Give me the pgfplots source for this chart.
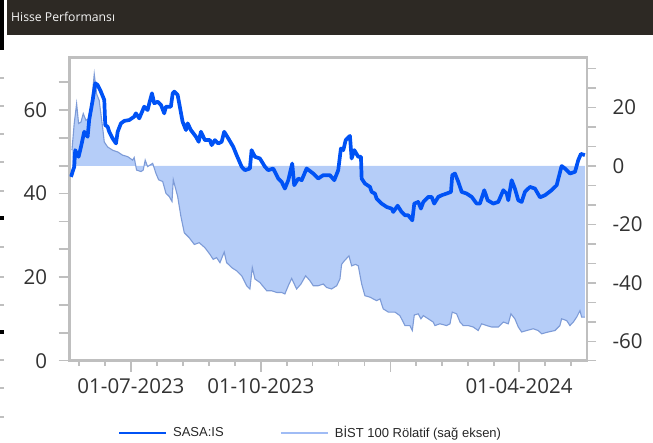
\documentclass[border=0pt]{standalone}
\usepackage{fontspec}
\setmainfont{Open Sans}
\newfontfamily\legfont{Liberation Sans}
\usepackage{pgfplots}
\usepackage{pgfplotstable}
\pgfplotsset{compat=1.18}
\definecolor{sasa}{RGB}{0,82,245}
\definecolor{bistfill}{RGB}{181,205,248}
\definecolor{bistline}{RGB}{125,155,215}
\definecolor{bistleg}{RGB}{160,188,245}
\definecolor{framec}{RGB}{191,191,191}
\definecolor{hdr}{RGB}{45,41,36}
\definecolor{txt}{RGB}{50,50,50}

\pgfplotstableread{
d v
-42.5 44.0
-40.2 46.4
-39.5 50.4
-37.1 48.8
-35.4 51.2
-33.1 54.8
-30.7 53.6
-29.6 57.6
-27.1 62.4
-25.3 66.4
-23.6 66.0
-21.3 64.4
-18.9 62.4
-18.2 56.4
-16.5 56.0
-15.4 54.8
-13.0 53.2
-10.6 52.0
-9.4 54.8
-7.1 56.8
-4.7 57.4
-1.2 57.6
2.3 58.4
3.5 59.2
5.9 58.0
9.4 60.8
11.8 60.0
13.0 61.6
14.9 64.0
16.5 61.6
18.9 62.0
21.3 61.2
23.6 59.2
24.8 60.8
28.3 60.8
29.6 64.0
30.7 64.4
33.1 63.6
34.2 61.6
36.6 57.2
39.0 55.2
40.2 56.8
42.5 55.2
46.1 53.6
48.0 52.4
49.6 54.8
52.4 52.8
56.0 52.8
57.2 51.6
59.5 52.8
61.9 52.0
64.3 52.4
66.1 54.8
69.0 53.2
72.5 51.2
74.9 49.2
78.5 46.4
80.8 45.6
84.3 46.0
85.5 50.4
87.9 48.8
91.4 48.4
95.0 46.4
97.3 45.6
100.8 46.0
104.4 43.6
106.8 42.8
109.1 41.2
111.5 43.2
114.3 47.2
115.7 42.0
118.6 43.6
121.0 43.2
124.5 46.0
129.2 44.8
132.7 43.6
136.3 44.4
139.8 44.4
141.0 44.4
144.1 43.2
146.9 45.6
148.8 50.8
150.5 50.4
152.2 52.8
155.2 53.8
156.4 48.4
158.3 50.4
161.1 48.8
163.0 48.8
163.5 43.6
165.8 42.4
169.4 41.6
170.6 40.4
172.9 40.0
174.1 38.8
177.7 37.6
181.2 36.8
184.8 36.4
185.9 35.6
189.0 37.1
191.8 35.6
194.2 34.8
196.5 34.8
199.4 33.6
200.8 37.6
203.6 38.0
205.5 36.4
207.2 38.0
210.7 39.2
213.1 39.2
214.9 37.6
217.8 39.2
220.2 39.6
223.7 40.0
226.8 40.4
227.7 44.4
229.6 44.8
232.0 42.8
234.4 40.4
237.9 40.0
241.5 39.2
245.0 37.6
247.3 37.6
250.4 40.8
252.8 38.4
256.8 37.6
260.3 38.0
263.9 40.8
266.3 40.0
267.4 38.4
269.8 43.2
272.1 41.2
274.5 38.4
276.9 38.0
279.2 40.4
282.8 41.6
286.3 41.2
289.9 39.1
293.4 39.6
298.1 40.8
301.7 42.0
305.2 46.6
307.6 46.0
311.1 44.8
314.7 45.2
317.0 48.0
318.9 49.5
321.7 49.2
}\sasadata

\pgfplotstableread{
d v
-41.8 5.4
-40.2 14.5
-38.5 21.3
-37.1 14.5
-35.4 15.0
-33.8 17.9
-31.9 15.6
-30.0 16.2
-28.3 19.6
-26.0 31.4
-24.3 24.6
-22.5 22.4
-20.1 13.3
-18.9 8.2
-16.5 6.5
-13.0 5.4
-9.4 4.8
-5.9 3.7
-2.3 3.2
1.2 2.0
2.3 2.9
4.0 -1.4
7.1 -1.9
8.7 -1.4
10.1 2.0
11.8 -0.2
15.4 0.9
17.7 -2.5
19.6 -4.7
22.5 -5.3
24.8 -9.3
27.1 -10.4
29.1 -12.1
30.0 -4.7
33.1 -10.4
35.4 -17.2
37.8 -22.8
41.3 -24.5
44.9 -26.8
48.4 -26.2
52.4 -27.9
56.0 -30.2
58.3 -31.9
60.7 -31.3
63.1 -33.0
66.1 -29.4
67.8 -33.0
71.4 -34.7
74.9 -35.8
78.5 -37.5
82.0 -40.9
84.3 -42.0
86.0 -34.7
87.9 -38.6
91.4 -39.8
96.2 -42.6
99.7 -42.6
103.3 -43.2
106.8 -43.2
109.1 -43.7
111.5 -40.9
113.9 -38.4
117.4 -42.0
120.5 -40.3
123.8 -37.5
126.9 -39.2
129.2 -40.9
132.7 -40.9
136.3 -40.3
138.7 -41.5
142.2 -42.0
145.8 -40.9
148.1 -38.6
149.3 -33.6
151.2 -32.4
154.5 -30.7
156.4 -34.1
159.2 -33.6
161.1 -34.1
163.5 -40.3
165.8 -44.3
169.4 -44.8
171.7 -45.4
174.1 -46.0
176.5 -45.4
178.8 -48.8
182.4 -49.9
187.1 -49.9
190.6 -51.1
194.2 -54.5
197.7 -54.5
199.4 -56.2
200.8 -50.9
203.6 -50.5
205.5 -52.2
207.2 -51.1
210.7 -52.2
214.2 -53.3
215.4 -54.5
219.0 -53.9
223.7 -54.5
226.1 -53.9
227.7 -49.9
230.8 -50.5
233.2 -53.3
235.5 -54.5
239.0 -54.5
242.6 -55.0
246.1 -56.2
248.5 -53.9
252.1 -54.5
255.6 -55.0
260.3 -55.0
263.9 -53.3
267.4 -53.9
269.3 -50.5
272.1 -52.2
274.5 -55.0
276.9 -56.7
280.4 -56.2
285.1 -55.6
288.6 -56.2
291.1 -57.3
295.7 -56.7
300.5 -56.2
304.0 -54.5
305.2 -52.2
308.8 -52.8
311.1 -54.5
313.5 -53.3
315.9 -51.6
318.2 -49.4
319.4 -51.6
321.7 -51.6
}\bistdata

\begin{document}
\begin{tikzpicture}[x=1pt,y=1pt]
\useasboundingbox (0,0) rectangle (653,443);
\fill[hdr] (7,408) rectangle (653,443);
\fill[black] (0,393) rectangle (4,443);
\node[anchor=west, text=white!92!gray, font=\fontsize{12.2}{14}\selectfont, inner sep=0pt] at (11,426) {Hisse Performansı};
\foreach \yy in {78,106,134,162,191,247,277,305,360,388,417}
  \fill[framec] (0,{443-\yy-1}) rectangle (4,{443-\yy+1});
\foreach \yy in {218,332}
  \fill[black] (0,{443-\yy-2}) rectangle (4,{443-\yy+2});

% right axis: BIST 100 relative
\begin{axis}[
  at={(69.7pt,82.3pt)}, anchor=south west,
  scale only axis, width=517.3pt, height=303.2pt,
  xmin=-43.4, xmax=323.2, ymin=-66.5, ymax=37.06,
  hide x axis, axis y line*=right,
  axis line style={framec, line width=2.5pt},
  ytick={-66.5,-60,-53.333,-46.667,-40,-33.333,-26.667,-20,-13.333,-6.667,0,6.667,13.333,20,26.667,33.333},
  yticklabels={,-60,,,-40,,,-20,,,0,,,20,,},
  tick align=outside, major tick length=9pt,
  tick style={framec, line width=1.6pt},
  yticklabel shift=13pt,
  yticklabel style={font=\fontsize{20.5}{24}\selectfont, text=txt, anchor=west},
]
\addplot[draw=none, fill=bistfill, forget plot] table[x=d,y=v] {\bistdata} \closedcycle;
\addplot[bistline, line width=1.1pt, forget plot] table[x=d,y=v] {\bistdata};
\end{axis}

% left axis: SASA
\begin{axis}[
  at={(69.7pt,82.3pt)}, anchor=south west,
  scale only axis, width=517.3pt, height=303.2pt,
  xmin=-43.4, xmax=323.2, ymin=0, ymax=72.57,
  axis line style={framec, line width=2.5pt},
  ytick pos=left, xtick pos=bottom,
  ytick={0,6.667,13.333,20,26.667,33.333,40,46.667,53.333,60,66.667},
  yticklabels={0,,,20,,,40,,,60,},
  xtick={0,92,184,275},
  xticklabels={01-07-2023,01-10-2023,{},01-04-2024},
  minor xtick={-36.8,-18.4,18.4,36.8,55.2,73.6,110.4,128.8,147.2,165.6,202,220.4,238.8,257.2,293.6,311.9},
  tick align=outside, major tick length=11pt, minor tick length=5pt,
  tick style={framec, line width=1.6pt},
  minor tick style={framec, line width=1.6pt},
  yticklabel style={font=\fontsize{20.5}{24}\selectfont, text=txt, anchor=east, xshift=-8pt},
  xticklabel style={font=\fontsize{20.5}{24}\selectfont, text=txt, yshift=-3pt},
  legend columns=2,
  legend style={draw=none, fill=none, inner sep=0pt,
    font=\legfont\fontsize{13}{15}\selectfont, text=black!85,
    at={(axis description cs:0.0928,-0.238)}, anchor=west,
    /tikz/every odd column/.append style={column sep=4pt},
    /tikz/every even column/.append style={column sep=54pt}},
  legend image code/.code={\draw[#1] (0pt,0pt) -- (47pt,0pt);},
]
\addplot[sasa, line width=3.7pt, line join=round, forget plot] table[x=d,y=v] {\sasadata};
\addlegendimage{sasa, line width=2.2pt}
\addlegendentry{SASA:IS}
\addlegendimage{bistleg, line width=2.2pt}
\addlegendentry{BİST 100 Rölatif (sağ eksen)}
\end{axis}
\end{tikzpicture}
\end{document}
